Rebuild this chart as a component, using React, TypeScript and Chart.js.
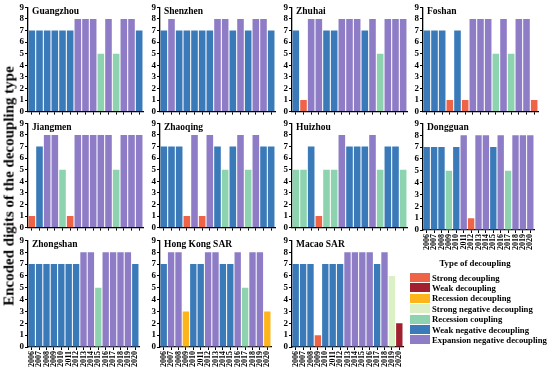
import React, { useEffect, useRef } from "react";
import { Chart, registerables } from "chart.js";

Chart.register(...registerables);

const years = ["2006","2007","2008","2009","2010","2011","2012","2013","2014","2015","2016","2017","2018","2019","2020"];

const guangzhou = [7,7,7,7,7,7,8,8,8,5,8,5,8,8,7];
const shenzhen = [7,8,7,7,7,7,7,8,8,7,8,7,8,8,7];
const zhuhai = [7,1,8,8,7,7,8,8,8,7,8,5,8,8,8];
const foshan = [7,7,7,1,7,1,8,8,8,5,8,5,8,8,1];
const jiangmen = [1,7,8,8,5,1,8,8,8,8,8,5,8,8,8];
const zhaoqing = [7,7,7,1,8,1,8,7,5,7,8,5,8,7,7];
const huizhou = [5,5,7,1,5,5,8,7,7,7,8,5,7,7,5];
const dongguan = [7,7,7,5,7,8,1,8,8,7,8,5,8,8,8];
const zhongshan = [7,7,7,7,7,7,7,8,8,5,8,8,8,8,7];
const hongkong = [7,8,8,3,7,7,8,8,7,7,8,5,8,8,3];
const macao = [7,7,7,1,7,7,7,8,8,8,8,7,8,6,2];

const typeNames = [
  "Strong decoupling",
  "Weak decoupling",
  "Recession decoupling",
  "Strong negative decoupling",
  "Recession coupling",
  "Weak negative decoupling",
  "Expansion negative decoupling",
];
const typeCodes = [1, 2, 3, 6, 5, 7, 8];
const typeColors = ["#EF6447", "#A11F2E", "#FDB51B", "#DCF0C6", "#8DD3AF", "#3A7AB9", "#8E7DC6"];

const FONT = "'Liberation Serif', 'Times New Roman', serif";

const colorFor = (v: number) => typeColors[typeCodes.indexOf(v)] || "#999";

type PanelDef = { name: string; data: number[]; col: number; row: number; labels: boolean };

const panels: PanelDef[] = [
  { name: "Guangzhou", data: guangzhou, col: 0, row: 0, labels: false },
  { name: "Shenzhen", data: shenzhen, col: 1, row: 0, labels: false },
  { name: "Zhuhai", data: zhuhai, col: 2, row: 0, labels: false },
  { name: "Foshan", data: foshan, col: 3, row: 0, labels: false },
  { name: "Jiangmen", data: jiangmen, col: 0, row: 1, labels: false },
  { name: "Zhaoqing", data: zhaoqing, col: 1, row: 1, labels: false },
  { name: "Huizhou", data: huizhou, col: 2, row: 1, labels: false },
  { name: "Dongguan", data: dongguan, col: 3, row: 1, labels: true },
  { name: "Zhongshan", data: zhongshan, col: 0, row: 2, labels: true },
  { name: "Hong Kong SAR", data: hongkong, col: 1, row: 2, labels: true },
  { name: "Macao SAR", data: macao, col: 2, row: 2, labels: true },
];

const colX = [28, 160, 292, 423];
const rowY = [7, 123, 240];
const PW = 115;
const PH = 107;
const YW = 16;
const PT = 6;
const PR = 3;

const titlePlugin = {
  id: "panelTitle",
  afterDraw(chart: any, _args: any, opts: any) {
    const ctx = chart.ctx;
    const a = chart.chartArea;
    ctx.save();
    ctx.font = `bold 9.5px ${FONT}`;
    ctx.fillStyle = "#000";
    ctx.textBaseline = "top";
    ctx.textAlign = "left";
    ctx.fillText(opts.text || "", a.left + 4, a.top - 1);
    ctx.restore();
  },
};

function Panel({ def }: { def: PanelDef }) {
  const ref = useRef<HTMLCanvasElement | null>(null);
  const xh = def.labels ? 24 : 4;
  const w = YW + PW + PR;
  const h = PT + PH + xh;
  useEffect(() => {
    if (!ref.current) return;
    const chart = new Chart(ref.current, {
      type: "bar",
      data: {
        labels: years,
        datasets: [
          {
            data: def.data,
            backgroundColor: def.data.map(colorFor),
            barPercentage: 0.86,
            categoryPercentage: 1,
          },
        ],
      },
      options: {
        responsive: false,
        animation: false,
        devicePixelRatio: 1,
        layout: { padding: { top: PT, right: PR, left: 0, bottom: 0 } },
        plugins: {
          legend: { display: false },
          tooltip: { enabled: false },
          panelTitle: { text: def.name },
        } as any,
        scales: {
          y: {
            min: 0,
            max: 9,
            ticks: {
              stepSize: 1,
              autoSkip: false,
              color: "#000",
              font: { family: FONT, size: 9, weight: "bold" },
              padding: 1,
            },
            grid: { display: true, drawOnChartArea: false, drawTicks: true, tickLength: 3, color: "#000" },
            border: { display: true, color: "#000", width: 1.3 },
            afterFit: (axis: any) => {
              axis.width = YW;
            },
          },
          x: {
            ticks: {
              display: def.labels,
              autoSkip: false,
              minRotation: 90,
              maxRotation: 90,
              color: "#000",
              font: { family: FONT, size: 8, weight: "bold" },
              padding: 1,
            },
            grid: { display: true, drawOnChartArea: false, drawTicks: true, tickLength: 3, color: "#000", offset: false },
            border: { display: true, color: "#000", width: 1.3 },
            afterFit: (axis: any) => {
              axis.height = xh;
            },
          },
        },
      },
      plugins: [titlePlugin],
    } as any);
    return () => chart.destroy();
  }, []);
  return (
    <canvas
      ref={ref}
      width={w}
      height={h}
      style={{
        position: "absolute",
        left: colX[def.col] - YW,
        top: rowY[def.row] - PT,
        width: w,
        height: h,
      }}
    />
  );
}

export default function App() {
  return (
    <div style={{ position: "absolute", left: 0, top: 0, width: 550, height: 371, background: "#fff", overflow: "hidden" }}>
      {panels.map((p) => (
        <Panel key={p.name} def={p} />
      ))}
      <div
        style={{
          position: "absolute",
          left: 9,
          top: 186,
          transform: "translate(-50%, -50%) rotate(-90deg)",
          whiteSpace: "nowrap",
          fontFamily: FONT,
          fontWeight: "bold",
          fontSize: 15,
          color: "#000",
        }}
      >
        Encoded digits of the decoupling type
      </div>
      <div
        style={{
          position: "absolute",
          left: 475,
          top: 263,
          transform: "translate(-50%, -50%)",
          whiteSpace: "nowrap",
          fontFamily: FONT,
          fontWeight: "bold",
          fontSize: 8.8,
          color: "#000",
        }}
      >
        Type of decoupling
      </div>
      {typeNames.map((n, i) => (
        <div
          key={n}
          style={{
            position: "absolute",
            left: 410,
            top: 273 + i * 10.4,
            height: 9,
            display: "flex",
            alignItems: "center",
            whiteSpace: "nowrap",
            fontFamily: FONT,
            fontWeight: "bold",
            fontSize: 8.7,
            color: "#000",
          }}
        >
          <span style={{ display: "inline-block", width: 20, height: 9, background: typeColors[i], marginRight: 2 }} />
          <span>{n}</span>
        </div>
      ))}
    </div>
  );
}
